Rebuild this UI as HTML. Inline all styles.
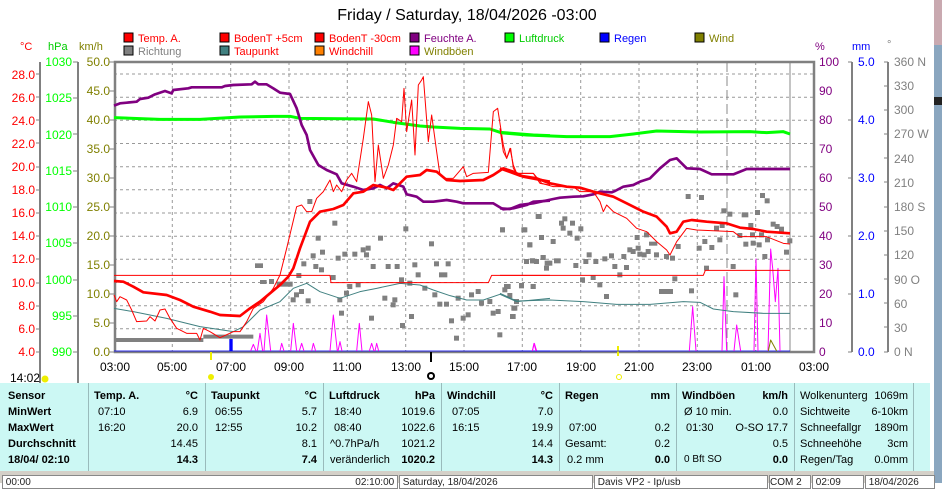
<!DOCTYPE html>
<html><head><meta charset="utf-8"><style>
body{margin:0;width:942px;height:483px;overflow:hidden;background:#fff;font-family:"Liberation Sans",sans-serif;position:relative}
svg{position:absolute;left:0;top:0}
.tb{position:absolute;left:0;top:383px;width:930px;height:88px;background:#ccf8f4}
.c{position:absolute;font-size:11px;color:#000;white-space:nowrap}
.r{text-align:right}
.b{font-weight:bold}
.sep{position:absolute;top:0;width:1px;height:88px;background:#9bb}
.sb{position:absolute;top:475px;height:12px;background:#fff;border:1px solid #888;font-size:10px;line-height:14px;overflow:hidden;color:#222}
</style></head><body>
<svg width="942" height="483" viewBox="0 0 942 483" font-family="Liberation Sans, sans-serif">
<rect x="934" y="0" width="8" height="483" fill="#8aa6bf"/><rect x="934" y="0" width="8" height="45" fill="#c9a9b0"/><rect x="934" y="97" width="8" height="8" fill="#222"/>
<text x="467" y="20" font-size="16" text-anchor="middle" fill="#000">Friday / Saturday, 18/04/2026  -03:00</text>
<g font-size="11">
<rect x="124" y="33" width="9" height="9" fill="#f00" stroke="#000"/><text x="138" y="42" fill="#f00">Temp. A.</text>
<rect x="220" y="33" width="9" height="9" fill="#f00" stroke="#000"/><text x="234" y="42" fill="#f00">BodenT +5cm</text>
<rect x="315" y="33" width="9" height="9" fill="#f00" stroke="#000"/><text x="329" y="42" fill="#f00">BodenT -30cm</text>
<rect x="410" y="33" width="9" height="9" fill="#800080" stroke="#000"/><text x="424" y="42" fill="#800080">Feuchte A.</text>
<rect x="505" y="33" width="9" height="9" fill="#0f0" stroke="#000"/><text x="519" y="42" fill="#0c0">Luftdruck</text>
<rect x="600" y="33" width="9" height="9" fill="#00f" stroke="#000"/><text x="614" y="42" fill="#00f">Regen</text>
<rect x="695" y="33" width="9" height="9" fill="#808000" stroke="#000"/><text x="709" y="42" fill="#808000">Wind</text>
<rect x="124" y="46" width="9" height="9" fill="#808080" stroke="#000"/><text x="138" y="55" fill="#808080">Richtung</text>
<rect x="220" y="46" width="9" height="9" fill="#408080" stroke="#000"/><text x="234" y="55" fill="#f00">Taupunkt</text>
<rect x="315" y="46" width="9" height="9" fill="#ff8000" stroke="#000"/><text x="329" y="55" fill="#f00">Windchill</text>
<rect x="410" y="46" width="9" height="9" fill="#f0f" stroke="#000"/><text x="424" y="55" fill="#808000">Windböen</text>
<text x="20" y="50" fill="#f00">°C</text><text x="48" y="50" fill="#0c0">hPa</text><text x="79" y="50" fill="#808000">km/h</text>
<text x="815" y="50" fill="#800080">%</text><text x="852" y="50" fill="#00f">mm</text><text x="887" y="48" fill="#808080">°</text>
</g>
<g stroke="#999" stroke-dasharray="3,3" stroke-width="1">
<line x1="114" x2="814" y1="74" y2="74"/><line x1="114" x2="814" y1="97.2" y2="97.2"/><line x1="114" x2="814" y1="120.3" y2="120.3"/><line x1="114" x2="814" y1="143.5" y2="143.5"/><line x1="114" x2="814" y1="166.7" y2="166.7"/><line x1="114" x2="814" y1="189.8" y2="189.8"/><line x1="114" x2="814" y1="213" y2="213"/><line x1="114" x2="814" y1="236.2" y2="236.2"/><line x1="114" x2="814" y1="259.3" y2="259.3"/><line x1="114" x2="814" y1="282.5" y2="282.5"/><line x1="114" x2="814" y1="305.7" y2="305.7"/><line x1="114" x2="814" y1="328.8" y2="328.8"/>
<line y1="62" y2="352" x1="172.3" x2="172.3"/><line y1="62" y2="352" x1="230.7" x2="230.7"/><line y1="62" y2="352" x1="289" x2="289"/><line y1="62" y2="352" x1="347.3" x2="347.3"/><line y1="62" y2="352" x1="405.7" x2="405.7"/><line y1="62" y2="352" x1="464" x2="464"/><line y1="62" y2="352" x1="522.3" x2="522.3"/><line y1="62" y2="352" x1="580.7" x2="580.7"/><line y1="62" y2="352" x1="639" x2="639"/><line y1="62" y2="352" x1="697.3" x2="697.3"/><line y1="62" y2="352" x1="755.7" x2="755.7"/>
</g>
<line x1="727" x2="727" y1="62" y2="352" stroke="#888" stroke-dasharray="10,4"/>
<line x1="790" x2="790" y1="62" y2="352" stroke="#888"/>
<rect x="115" y="62" width="699" height="290" fill="none" stroke="#808080" stroke-width="2.5"/>
<g stroke="#808080" stroke-width="2" fill="none">
<line x1="40" x2="40" y1="62" y2="388"/><line x1="78" x2="78" y1="62" y2="388"/>
<line x1="852" x2="852" y1="62" y2="352"/><line x1="888" x2="888" y1="62" y2="352"/>
</g>
<g font-size="12">
<g fill="#f00" text-anchor="end">
<text x="35" y="79">28.0</text><text x="35" y="102">26.0</text><text x="35" y="125">24.0</text><text x="35" y="148">22.0</text><text x="35" y="171">20.0</text><text x="35" y="194">18.0</text><text x="35" y="217">16.0</text><text x="35" y="240">14.0</text><text x="35" y="263">12.0</text><text x="35" y="287">10.0</text><text x="35" y="310">8.0</text><text x="35" y="333">6.0</text><text x="35" y="356">4.0</text>
</g>
<g fill="#0f0" text-anchor="end">
<text x="72" y="66">1030</text><text x="72" y="102">1025</text><text x="72" y="139">1020</text><text x="72" y="175">1015</text><text x="72" y="211">1010</text><text x="72" y="247">1005</text><text x="72" y="284">1000</text><text x="72" y="320">995</text><text x="72" y="356">990</text>
</g>
<g fill="#808000" text-anchor="end">
<text x="110" y="66">50.0</text><text x="110" y="95">45.0</text><text x="110" y="124">40.0</text><text x="110" y="153">35.0</text><text x="110" y="182">30.0</text><text x="110" y="211">25.0</text><text x="110" y="240">20.0</text><text x="110" y="269">15.0</text><text x="110" y="298">10.0</text><text x="110" y="327">5.0</text><text x="110" y="356">0.0</text>
</g>
<g fill="#800080">
<text x="819" y="66">100</text><text x="819" y="95">90</text><text x="819" y="124">80</text><text x="819" y="153">70</text><text x="819" y="182">60</text><text x="819" y="211">50</text><text x="819" y="240">40</text><text x="819" y="269">30</text><text x="819" y="298">20</text><text x="819" y="327">10</text><text x="819" y="356">0</text>
</g>
<g fill="#00f">
<text x="858" y="66">5.0</text><text x="858" y="124">4.0</text><text x="858" y="182">3.0</text><text x="858" y="240">2.0</text><text x="858" y="298">1.0</text><text x="858" y="356">0.0</text>
</g>
<g fill="#808080">
<text x="894" y="66">360 N</text><text x="894" y="90">330</text><text x="894" y="114">300</text><text x="894" y="138">270 W</text><text x="894" y="163">240</text><text x="894" y="187">210</text><text x="894" y="211">180 S</text><text x="894" y="235">150</text><text x="894" y="259">120</text><text x="894" y="284">90   O</text><text x="894" y="308">60</text><text x="894" y="332">30</text><text x="894" y="356">0    N</text>
</g>
</g>
<g stroke="#808080" stroke-width="1">
<path d="M36 74h4M36 97h4M36 120h4M36 143h4M36 167h4M36 190h4M36 213h4M36 236h4M36 259h4M36 283h4M36 306h4M36 329h4M36 352h4"/>
<path d="M73 62h5M73 98h5M73 134h5M73 171h5M73 207h5M73 243h5M73 280h5M73 316h5M73 352h5"/>
<path d="M109 62h5M109 91h5M109 120h5M109 149h5M109 178h5M109 207h5M109 236h5M109 265h5M109 294h5M109 323h5M109 352h5"/>
<path d="M848 62h4M848 120h4M848 178h4M848 236h4M848 294h4M848 352h4"/>
<path d="M884 62h4M884 86h4M884 110h4M884 134h4M884 158h4M884 182h4M884 207h4M884 231h4M884 255h4M884 279h4M884 303h4M884 327h4M884 352h4"/>
</g>
<g font-size="12" text-anchor="middle" fill="#000">
<text x="115" y="371">03:00</text><text x="172" y="371">05:00</text><text x="231" y="371">07:00</text><text x="289" y="371">09:00</text><text x="347" y="371">11:00</text><text x="406" y="371">13:00</text><text x="464" y="371">15:00</text><text x="522" y="371">17:00</text><text x="581" y="371">19:00</text><text x="639" y="371">21:00</text><text x="697" y="371">23:00</text><text x="756" y="371">01:00</text><text x="814" y="371">03:00</text>
</g>
<rect x="210" y="352" width="2" height="8" fill="#ee0"/><rect x="617" y="346" width="2" height="10" fill="#ee0"/><rect x="430" y="352" width="2" height="10" fill="#000"/>
<text x="10" y="382" font-size="12">14:02</text>
<circle cx="45" cy="379" r="3.5" fill="#ee0"/><circle cx="211" cy="377" r="3" fill="#ee0"/><circle cx="431" cy="376" r="4" fill="#000"/><circle cx="431" cy="376" r="2" fill="#fff"/><circle cx="619" cy="377" r="2.5" fill="none" stroke="#ee0"/>
<g transform="translate(100,55) scale(0.33333)" fill="none" stroke-linejoin="round">
<g fill="#808080">
<rect x="622" y="432" width="15" height="15"/><rect x="697" y="497" width="15" height="15"/><rect x="647" y="542" width="15" height="15"/><rect x="660" y="584" width="15" height="15"/><rect x="632" y="595" width="15" height="15"/><rect x="604" y="619" width="15" height="15"/><rect x="589" y="654" width="15" height="15"/><rect x="465" y="625" width="24" height="14"/><rect x="480" y="675" width="20" height="12"/><rect x="507" y="672" width="15" height="15"/><rect x="530" y="680" width="48" height="15"/><rect x="572" y="727" width="15" height="15"/><rect x="582" y="712" width="15" height="15"/><rect x="597" y="702" width="15" height="15"/><rect x="617" y="730" width="15" height="15"/><rect x="640" y="627" width="15" height="15"/><rect x="657" y="637" width="15" height="15"/><rect x="692" y="660" width="15" height="15"/><rect x="707" y="602" width="15" height="15"/><rect x="727" y="590" width="15" height="15"/><rect x="757" y="590" width="15" height="15"/><rect x="782" y="577" width="15" height="15"/><rect x="797" y="572" width="15" height="15"/><rect x="792" y="592" width="15" height="15"/><rect x="812" y="627" width="15" height="15"/><rect x="834" y="542" width="15" height="15"/><rect x="857" y="627" width="15" height="15"/><rect x="884" y="627" width="15" height="15"/><rect x="910" y="514" width="15" height="15"/><rect x="937" y="622" width="15" height="15"/><rect x="947" y="652" width="15" height="15"/><rect x="987" y="559" width="15" height="15"/><rect x="1002" y="619" width="15" height="15"/><rect x="1037" y="619" width="15" height="15"/><rect x="1017" y="652" width="25" height="15"/><rect x="712" y="727" width="15" height="15"/><rect x="742" y="687" width="15" height="15"/><rect x="767" y="682" width="15" height="15"/><rect x="732" y="707" width="15" height="15"/><rect x="717" y="767" width="15" height="15"/><rect x="807" y="782" width="15" height="15"/><rect x="847" y="722" width="15" height="15"/><rect x="877" y="727" width="15" height="15"/><rect x="897" y="667" width="15" height="15"/><rect x="922" y="677" width="15" height="15"/><rect x="967" y="692" width="15" height="15"/><rect x="997" y="712" width="15" height="15"/><rect x="1012" y="740" width="15" height="15"/><rect x="1032" y="740" width="15" height="15"/><rect x="1067" y="722" width="15" height="15"/><rect x="1107" y="712" width="15" height="15"/><rect x="1127" y="702" width="15" height="15"/><rect x="1137" y="737" width="15" height="15"/><rect x="1162" y="732" width="15" height="15"/><rect x="1172" y="767" width="15" height="15"/><rect x="1187" y="762" width="15" height="15"/><rect x="1207" y="697" width="15" height="15"/><rect x="1217" y="687" width="15" height="15"/><rect x="1222" y="714" width="15" height="15"/><rect x="1242" y="732" width="15" height="15"/><rect x="1237" y="752" width="15" height="15"/><rect x="1232" y="777" width="15" height="15"/><rect x="1192" y="832" width="15" height="15"/><rect x="1062" y="842" width="15" height="15"/><rect x="1047" y="790" width="15" height="15"/><rect x="1082" y="782" width="15" height="15"/><rect x="1097" y="772" width="15" height="15"/><rect x="927" y="777" width="15" height="15"/><rect x="900" y="804" width="15" height="15"/><rect x="872" y="742" width="15" height="15"/><rect x="1200" y="517" width="15" height="15"/><rect x="1267" y="517" width="15" height="15"/><rect x="1282" y="562" width="15" height="15"/><rect x="1307" y="477" width="15" height="15"/><rect x="1317" y="540" width="15" height="15"/><rect x="1272" y="612" width="15" height="15"/><rect x="1290" y="610" width="15" height="15"/><rect x="1322" y="600" width="15" height="15"/><rect x="1334" y="617" width="15" height="15"/><rect x="1257" y="685" width="15" height="15"/><rect x="1292" y="687" width="15" height="15"/>
</g>
<path d="M42 855H310M310 845H460" stroke="#808080" stroke-width="12"/>
<rect x="388" y="852" width="10" height="36" fill="#00f"/>
<path d="M42 888H1350" stroke="#00f" stroke-width="2"/>
<path d="M452 888L460 868L468 888M472 888L480 835L488 888M492 888L500 780L512 888M540 888L545 865L552 888M572 888L580 805L590 888M598 888L605 865L612 888M635 888L640 865L647 888M690 888L700 780L712 888M714 888L720 860L726 888M770 888L778 805L786 888M808 888L815 865L822 888M825 888L830 865L836 888M1297 888L1303 865L1310 888" stroke="#f0f" stroke-width="3"/>
<polyline stroke="#408080" stroke-width="3" points="42,760 100,770 200,790 300,815 400,830 430,815 480,765 540,740 580,700 620,685 660,710 720,730 780,710 830,700 900,685 960,690 1000,705 1050,722 1100,735 1150,735 1200,718 1250,740 1350,730"/>
<path d="M42 661H690L693 683H1165L1175 661H1350" stroke="#f00" stroke-width="3"/>
<polyline stroke="#0f0" stroke-width="9" points="42,188 100,190 180,193 300,193 420,186 520,184 570,184 600,190 820,192 880,202 960,213 1000,216 1080,220 1170,222 1200,232 1300,240 1350,242"/>
<polyline stroke="#800080" stroke-width="8" points="42,152 60,145 110,140 120,132 145,128 165,118 195,108 215,115 220,105 265,100 275,97 365,97 375,93 400,90 455,88 465,80 475,88 500,88 520,100 540,113 570,117 590,160 605,210 620,240 630,285 655,330 680,345 710,358 725,385 760,395 790,405 820,400 840,390 860,400 880,385 910,395 920,418 950,425 970,440 1000,440 1040,435 1070,440 1090,445 1180,445 1210,463 1240,460 1280,450 1300,440 1350,437"/>
<polyline stroke="#f00" stroke-width="3" points="42,720 50,740 60,725 80,735 95,765 110,800 140,798 150,785 165,798 180,765 195,762 210,790 230,820 260,835 290,835 300,855 310,820 330,830 360,848 400,830 420,830 440,800 460,760 490,740 520,700 540,660 560,580 590,455 605,450 620,470 635,470 650,430 670,410 690,375 700,410 710,390 725,410 740,375 755,355 770,380 790,250 805,140 815,180 825,380 835,270 850,370 865,330 880,270 890,190 905,200 912,100 920,230 935,135 945,300 955,90 965,75 970,65 975,130 985,260 995,180 1010,290 1020,360 1035,370 1060,370 1090,335 1100,365 1120,355 1165,352 1180,170 1193,160 1210,270 1220,310 1232,280 1240,340 1250,355 1300,355 1320,385 1350,390"/>
<polyline stroke="#f00" stroke-width="8" points="42,678 70,680 100,695 130,712 200,720 240,735 280,755 330,770 360,780 420,783 450,760 480,740 510,715 540,690 565,665 580,640 600,580 630,500 660,470 700,462 730,450 760,415 790,410 820,390 860,398 880,405 900,385 920,365 960,360 980,345 1010,350 1040,375 1080,378 1150,375 1180,360 1210,340 1240,350 1270,365 1350,380"/>
</g>
<g transform="translate(500,55) scale(0.33333)" fill="none" stroke-linejoin="round">
<g fill="#808080">
<rect x="0" y="517" width="15" height="15"/><rect x="64" y="517" width="15" height="15"/><rect x="110" y="477" width="15" height="15"/><rect x="117" y="540" width="15" height="15"/><rect x="82" y="562" width="15" height="15"/><rect x="152" y="552" width="15" height="15"/><rect x="187" y="484" width="15" height="15"/><rect x="177" y="497" width="15" height="15"/><rect x="210" y="497" width="15" height="15"/><rect x="182" y="512" width="15" height="15"/><rect x="202" y="527" width="15" height="15"/><rect x="235" y="514" width="15" height="15"/><rect x="224" y="542" width="15" height="15"/><rect x="72" y="612" width="15" height="15"/><rect x="90" y="610" width="15" height="15"/><rect x="102" y="612" width="15" height="15"/><rect x="122" y="600" width="15" height="15"/><rect x="132" y="632" width="15" height="15"/><rect x="142" y="617" width="15" height="15"/><rect x="162" y="610" width="20" height="15"/><rect x="220" y="624" width="15" height="15"/><rect x="250" y="612" width="15" height="15"/><rect x="260" y="592" width="15" height="15"/><rect x="280" y="612" width="15" height="15"/><rect x="307" y="604" width="15" height="15"/><rect x="327" y="595" width="15" height="15"/><rect x="337" y="627" width="15" height="15"/><rect x="364" y="597" width="15" height="15"/><rect x="372" y="630" width="15" height="15"/><rect x="382" y="577" width="15" height="15"/><rect x="392" y="582" width="15" height="15"/><rect x="407" y="572" width="15" height="15"/><rect x="412" y="590" width="15" height="15"/><rect x="425" y="592" width="15" height="15"/><rect x="437" y="582" width="15" height="15"/><rect x="447" y="560" width="25" height="12"/><rect x="462" y="592" width="15" height="15"/><rect x="404" y="540" width="15" height="15"/><rect x="432" y="532" width="15" height="15"/><rect x="492" y="597" width="15" height="15"/><rect x="510" y="602" width="15" height="15"/><rect x="517" y="664" width="15" height="15"/><rect x="527" y="567" width="15" height="15"/><rect x="557" y="417" width="15" height="15"/><rect x="597" y="420" width="15" height="15"/><rect x="590" y="572" width="15" height="15"/><rect x="607" y="552" width="15" height="15"/><rect x="628" y="570" width="15" height="15"/><rect x="652" y="547" width="15" height="15"/><rect x="642" y="512" width="15" height="15"/><rect x="664" y="460" width="15" height="15"/><rect x="682" y="470" width="15" height="15"/><rect x="659" y="504" width="15" height="15"/><rect x="725" y="472" width="20" height="15"/><rect x="765" y="465" width="15" height="15"/><rect x="745" y="504" width="15" height="15"/><rect x="750" y="532" width="15" height="15"/><rect x="780" y="414" width="15" height="15"/><rect x="794" y="430" width="15" height="15"/><rect x="812" y="500" width="15" height="15"/><rect x="824" y="507" width="15" height="15"/><rect x="837" y="515" width="15" height="15"/><rect x="777" y="532" width="15" height="15"/><rect x="795" y="547" width="15" height="15"/><rect x="712" y="534" width="15" height="15"/><rect x="730" y="560" width="15" height="15"/><rect x="752" y="557" width="15" height="15"/><rect x="770" y="562" width="15" height="15"/><rect x="787" y="597" width="15" height="15"/><rect x="852" y="584" width="15" height="15"/><rect x="862" y="550" width="15" height="15"/><rect x="692" y="627" width="15" height="15"/><rect x="612" y="632" width="15" height="15"/><rect x="567" y="700" width="15" height="15"/><rect x="477" y="702" width="42" height="15"/><rect x="700" y="712" width="15" height="15"/><rect x="12" y="687" width="15" height="15"/><rect x="57" y="684" width="15" height="15"/><rect x="92" y="687" width="15" height="15"/><rect x="34" y="752" width="15" height="15"/><rect x="30" y="777" width="15" height="15"/><rect x="352" y="652" width="15" height="15"/><rect x="240" y="667" width="15" height="15"/><rect x="272" y="660" width="15" height="15"/><rect x="292" y="682" width="15" height="15"/><rect x="312" y="717" width="15" height="15"/>
</g>
<path d="M0 888H870" stroke="#00f" stroke-width="2"/>
<path d="M97 888L102 865L108 888M568 888L578 755L588 888M666 888L672 665L680 888M702 888L710 810L722 888M762 888L768 612L774 888M804 888L812 582L818 640L826 740L834 640L840 888" stroke="#f0f" stroke-width="3"/>
<path d="M805 888L812 855L830 888" stroke="#808000" stroke-width="3"/>
<polyline stroke="#408080" stroke-width="3" points="0,715 50,738 150,735 250,740 350,748 450,748 550,740 600,742 640,762 700,770 790,775 870,775"/>
<path d="M0 661H610L616 646H870" stroke="#f00" stroke-width="3"/>
<polyline stroke="#0f0" stroke-width="9" points="0,233 80,240 200,245 330,245 400,237 470,228 600,231 750,230 800,233 850,230 870,237"/>
<polyline stroke="#800080" stroke-width="8" points="0,460 30,462 60,450 100,445 160,432 180,428 220,425 250,424 280,418 300,410 335,412 345,408 370,395 400,390 420,380 450,370 480,340 510,315 530,310 560,340 600,342 635,358 700,358 740,342 870,342"/>
<polyline stroke="#f00" stroke-width="3" points="0,220 10,290 20,310 30,280 40,330 50,355 100,355 125,385 160,395 220,395 240,410 280,410 300,440 310,470 320,450 340,470 380,490 410,520 440,530 470,560 500,585 510,600 530,560 560,520 590,525 700,530 720,545 800,545 850,565 870,567"/>
<polyline stroke="#f00" stroke-width="8" points="0,340 60,362 110,370 150,385 200,395 240,398 280,410 340,425 380,445 430,470 470,485 500,515 510,535 530,530 550,500 575,495 620,500 680,505 720,518 760,522 800,530 870,535"/>
</g>
</svg>
<div class="tb">
<div class="sep" style="left:88px"></div><div class="sep" style="left:205px"></div><div class="sep" style="left:323px"></div><div class="sep" style="left:441px"></div><div class="sep" style="left:559px"></div><div class="sep" style="left:676px"></div><div class="sep" style="left:794px"></div><div class="sep" style="left:913px"></div>
</div>
<div style="position:absolute;left:0;top:383px">
<div class="c b" style="left:8px;top:7px">Sensor</div><div class="c b" style="left:8px;top:23px">MinWert</div><div class="c b" style="left:8px;top:39px">MaxWert</div><div class="c b" style="left:8px;top:55px">Durchschnitt</div><div class="c b" style="left:8px;top:71px">18/04/ 02:10</div>

<div class="c b" style="left:94px;top:7px">Temp. A.</div><div class="c b r" style="left:150px;width:48px;top:7px">°C</div>
<div class="c" style="left:98px;top:23px">07:10</div><div class="c r" style="left:150px;width:48px;top:23px">6.9</div>
<div class="c" style="left:98px;top:39px">16:20</div><div class="c r" style="left:150px;width:48px;top:39px">20.0</div>
<div class="c r" style="left:150px;width:48px;top:55px">14.45</div><div class="c b r" style="left:150px;width:48px;top:71px">14.3</div>

<div class="c b" style="left:211px;top:7px">Taupunkt</div><div class="c b r" style="left:270px;width:47px;top:7px">°C</div>
<div class="c" style="left:215px;top:23px">06:55</div><div class="c r" style="left:270px;width:47px;top:23px">5.7</div>
<div class="c" style="left:215px;top:39px">12:55</div><div class="c r" style="left:270px;width:47px;top:39px">10.2</div>
<div class="c r" style="left:270px;width:47px;top:55px">8.1</div><div class="c b r" style="left:270px;width:47px;top:71px">7.4</div>

<div class="c b" style="left:329px;top:7px">Luftdruck</div><div class="c b r" style="left:385px;width:50px;top:7px">hPa</div>
<div class="c" style="left:334px;top:23px">18:40</div><div class="c r" style="left:385px;width:50px;top:23px">1019.6</div>
<div class="c" style="left:334px;top:39px">08:40</div><div class="c r" style="left:385px;width:50px;top:39px">1022.6</div>
<div class="c" style="left:330px;top:55px">^0.7hPa/h</div><div class="c r" style="left:385px;width:50px;top:55px">1021.2</div>
<div class="c" style="left:330px;top:71px">veränderlich</div><div class="c b r" style="left:385px;width:50px;top:71px">1020.2</div>

<div class="c b" style="left:447px;top:7px">Windchill</div><div class="c b r" style="left:505px;width:48px;top:7px">°C</div>
<div class="c" style="left:452px;top:23px">07:05</div><div class="c r" style="left:505px;width:48px;top:23px">7.0</div>
<div class="c" style="left:452px;top:39px">16:15</div><div class="c r" style="left:505px;width:48px;top:39px">19.9</div>
<div class="c r" style="left:505px;width:48px;top:55px">14.4</div><div class="c b r" style="left:505px;width:48px;top:71px">14.3</div>

<div class="c b" style="left:565px;top:7px">Regen</div><div class="c b r" style="left:620px;width:50px;top:7px">mm</div>
<div class="c" style="left:569px;top:39px">07:00</div><div class="c r" style="left:620px;width:50px;top:39px">0.2</div>
<div class="c" style="left:565px;top:55px">Gesamt:</div><div class="c r" style="left:620px;width:50px;top:55px">0.2</div>
<div class="c" style="left:567px;top:71px">0.2 mm</div><div class="c b r" style="left:620px;width:50px;top:71px">0.0</div>

<div class="c b" style="left:682px;top:7px">Windböen</div><div class="c b r" style="left:738px;width:50px;top:7px">km/h</div>
<div class="c" style="left:684px;top:23px">Ø 10 min.</div><div class="c r" style="left:738px;width:50px;top:23px">0.0</div>
<div class="c" style="left:686px;top:39px">01:30</div><div class="c r" style="left:730px;width:58px;top:39px">O-SO 17.7</div>
<div class="c r" style="left:738px;width:50px;top:55px">0.5</div>
<div class="c" style="left:684px;top:71px;font-size:10px">0 Bft SO</div><div class="c b r" style="left:738px;width:50px;top:71px">0.0</div>

<div class="c" style="left:800px;top:7px">Wolkenunterg</div><div class="c r" style="left:860px;width:48px;top:7px">1069m</div>
<div class="c" style="left:800px;top:23px">Sichtweite</div><div class="c r" style="left:860px;width:48px;top:23px">6-10km</div>
<div class="c" style="left:800px;top:39px">Schneefallgr</div><div class="c r" style="left:860px;width:48px;top:39px">1890m</div>
<div class="c" style="left:800px;top:55px">Schneehöhe</div><div class="c r" style="left:860px;width:48px;top:55px">3cm</div>
<div class="c" style="left:800px;top:71px">Regen/Tag</div><div class="c r" style="left:860px;width:48px;top:71px">0.0mm</div>
</div>
<div style="position:absolute;left:0;top:471px;width:934px;height:12px;background:#d4d0c8"></div>
<div class="sb" style="left:2px;width:394px">&nbsp;00:00<span style="float:right">02:10:00&nbsp;</span></div>
<div class="sb" style="left:399px;width:192px">&nbsp;Saturday, 18/04/2026</div>
<div class="sb" style="left:594px;width:172px">&nbsp;Davis VP2 - Ip/usb</div>
<div class="sb" style="left:769px;width:40px">COM 2</div>
<div class="sb" style="left:812px;width:50px">&nbsp;02:09</div>
<div class="sb" style="left:865px;width:68px">&nbsp;18/04/2026</div>
</body></html>
